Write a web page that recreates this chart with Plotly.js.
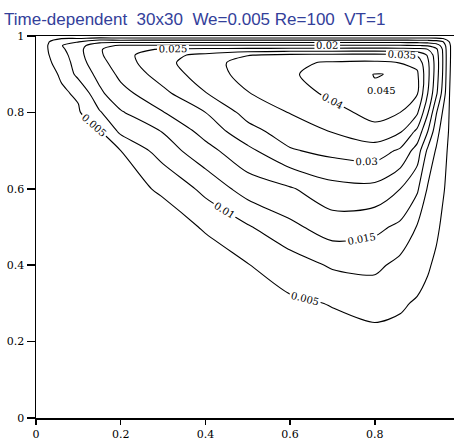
<!DOCTYPE html>
<html>
<head>
<meta charset="utf-8">
<script src="https://cdn.plot.ly/plotly-3.0.1.min.js"></script>
<style>html,body{margin:0;padding:0;background:#fff;}</style>
</head>
<body>
<div id="chart" style="width:454px;height:441px;"></div>
<script>
// Grid coordinates (x along the cavity, y up the cavity)
const xNodes = [0, 0.03, 0.06, 0.1, 0.15, 0.2, 0.3, 0.4, 0.5, 0.6, 0.7, 0.8, 0.86, 0.9, 0.925, 0.945, 0.96, 0.975, 0.99, 1];
const yNodes = [0, 0.1, 0.2, 0.3, 0.4, 0.5, 0.6, 0.7, 0.75, 0.8, 0.85, 0.9, 0.93, 0.95, 0.965, 0.975, 0.985, 0.993, 1];

// Stream-function values, one column per x node (bottom to top)
const psi_x000 = [0,0,0,0,0,0,0,0,0,0,0,0,0,0,0,0,0,0,0];
const psi_x003 = [0,0.0002,0.0004,0.0006,0.0008,0.001,0.0013,0.0017,0.002,0.0025,0.003,0.0038,0.0045,0.0049,0.0053,0.0054,0.0048,0.003,0];
const psi_x006 = [0,0.0004,0.0008,0.0012,0.0016,0.002,0.0026,0.0033,0.0037,0.0041,0.0044,0.0055,0.0066,0.0078,0.009,0.0098,0.0085,0.005,0];
const psi_x010 = [0,0.0005,0.001,0.0015,0.002,0.0026,0.0032,0.0036,0.004,0.0045,0.0056,0.0115,0.0128,0.0134,0.0136,0.013,0.0098,0.0055,0];
const psi_x015 = [0,0.0006,0.0012,0.0018,0.0024,0.003,0.0037,0.0044,0.0046,0.0095,0.014,0.0165,0.0183,0.0193,0.0195,0.0185,0.0135,0.0072,0];
const psi_x020 = [0,0.0007,0.0014,0.0021,0.0028,0.0035,0.0042,0.005,0.011,0.0145,0.0183,0.0212,0.0226,0.0232,0.023,0.0205,0.0135,0.0065,0];
const psi_x030 = [0,0.0009,0.0018,0.0027,0.0034,0.004,0.0053,0.0125,0.0152,0.0198,0.0238,0.0272,0.0287,0.0285,0.0255,0.0205,0.0135,0.0068,0];
const psi_x040 = [0,0.001,0.002,0.003,0.004,0.0052,0.0115,0.0182,0.0218,0.025,0.0298,0.0325,0.0328,0.0312,0.0262,0.0205,0.0135,0.0068,0];
const psi_x050 = [0,0.0012,0.0024,0.0036,0.0048,0.0095,0.0172,0.0238,0.0282,0.0318,0.0348,0.0368,0.0372,0.0348,0.0265,0.0205,0.0135,0.0068,0];
const psi_x060 = [0,0.0015,0.003,0.0042,0.0075,0.0138,0.0195,0.0295,0.0325,0.0352,0.0375,0.0392,0.0392,0.0362,0.0268,0.0205,0.0135,0.0068,0];
const psi_x070 = [0,0.0017,0.0034,0.0052,0.0106,0.0175,0.0232,0.0315,0.0352,0.0382,0.0412,0.0428,0.0405,0.0365,0.027,0.0205,0.0135,0.0068,0];
const psi_x080 = [0,0.0019,0.0036,0.0064,0.0112,0.0162,0.0235,0.0326,0.0382,0.0418,0.0446,0.0451,0.0408,0.0368,0.0272,0.0206,0.0136,0.0068,0];
const psi_x086 = [0,0.0017,0.0034,0.0056,0.0085,0.014,0.02,0.0292,0.0355,0.04,0.0438,0.0448,0.0399,0.036,0.027,0.0205,0.0135,0.0068,0];
const psi_x090 = [0,0.0014,0.0029,0.0045,0.0072,0.0097,0.0158,0.0228,0.0288,0.0358,0.0405,0.0408,0.0385,0.0345,0.0265,0.0202,0.0133,0.0067,0];
const psi_x0925 = [0,0.001,0.0023,0.0037,0.0055,0.0078,0.0095,0.014,0.02,0.0255,0.03,0.0315,0.031,0.0295,0.025,0.0195,0.013,0.0065,0];
const psi_x0945 = [0,0.0008,0.0018,0.003,0.0042,0.0058,0.0075,0.0095,0.012,0.0155,0.021,0.0225,0.0228,0.0222,0.021,0.0175,0.0122,0.0062,0];
const psi_x096 = [0,0.0006,0.0013,0.0022,0.0032,0.0043,0.0055,0.0068,0.0078,0.0098,0.0135,0.015,0.0153,0.0152,0.0148,0.0135,0.0105,0.0055,0];
const psi_x0975 = [0,0.0004,0.0009,0.0015,0.0022,0.003,0.0039,0.0043,0.0048,0.0051,0.0054,0.0058,0.006,0.0061,0.0061,0.006,0.0052,0.0032,0];
const psi_x099 = [0,0.0001,0.0003,0.0005,0.0007,0.0009,0.0012,0.0013,0.0014,0.0015,0.0016,0.0017,0.0018,0.0018,0.0018,0.0018,0.0016,0.001,0];
const psi_x100 = [0,0,0,0,0,0,0,0,0,0,0,0,0,0,0,0,0,0,0];

// Contour levels and tick labels
const levelStart = 0.005;
const levelEnd = 0.045;
const levelStep = 0.005;
const xTickVals = [0, 0.2, 0.4, 0.6, 0.8];
const xTickText = ['0', '0.2', '0.4', '0.6', '0.8'];
const yTickVals = [0, 0.2, 0.4, 0.6, 0.8, 1];
const yTickText = ['0', '0.2', '0.4', '0.6', '0.8', '1'];
const peakLabel = '0.045';
const peakLabelPos = [0.815, 0.858];
const titleText = 'Time-dependent\u00a0\u00a030x30\u00a0\u00a0We=0.005 Re=100\u00a0\u00a0VT=1';

const psiColumns = [psi_x000, psi_x003, psi_x006, psi_x010, psi_x015, psi_x020, psi_x030, psi_x040,
  psi_x050, psi_x060, psi_x070, psi_x080, psi_x086, psi_x090, psi_x0925, psi_x0945, psi_x096,
  psi_x0975, psi_x099, psi_x100];

const trace = {
  type: 'contour',
  x: xNodes,
  y: yNodes,
  z: psiColumns,
  transpose: true,
  showscale: false,
  autocontour: false,
  contours: {
    start: levelStart, end: levelEnd, size: levelStep,
    coloring: 'lines',
    showlabels: true,
    labelfont: {family: 'DejaVu Serif', size: 10, color: '#000'}
  },
  colorscale: [[0, '#000'], [1, '#000']],
  line: {width: 1.1, smoothing: 0.8},
  hoverinfo: 'skip'
};

const axisFont = {family: 'DejaVu Serif', size: 11, color: '#000'};

const layout = {
  width: 454, height: 441,
  margin: {l: 36, r: 0, t: 36, b: 23},
  paper_bgcolor: '#fff', plot_bgcolor: '#fff',
  showlegend: false,
  title: {
    text: titleText,
    font: {family: 'Liberation Sans', size: 17, color: '#33409a'},
    xref: 'container', x: 4 / 454, xanchor: 'left',
    yref: 'container', y: 1 - 19 / 441, yanchor: 'middle'
  },
  xaxis: {
    range: [0, 0.987], tickmode: 'array', tickvals: xTickVals, ticktext: xTickText,
    ticks: 'outside', ticklen: 5, tickwidth: 1.5, tickcolor: '#000',
    showline: true, linewidth: 1.5, linecolor: '#000', mirror: true,
    showgrid: false, zeroline: false, tickfont: axisFont, fixedrange: true
  },
  yaxis: {
    range: [0, 1], tickmode: 'array', tickvals: yTickVals, ticktext: yTickText,
    ticks: 'outside', ticklen: 8, tickwidth: 1.5, tickcolor: '#000',
    showline: true, linewidth: 1.5, linecolor: '#000',
    showgrid: false, zeroline: false, tickfont: axisFont, fixedrange: true
  },
  annotations: [{
    x: peakLabelPos[0], y: peakLabelPos[1], xref: 'x', yref: 'y',
    text: peakLabel, showarrow: false,
    font: {family: 'DejaVu Serif', size: 10, color: '#000'}
  }]
};

Plotly.newPlot('chart', [trace], layout, {staticPlot: true, displayModeBar: false});
</script>
</body>
</html>
